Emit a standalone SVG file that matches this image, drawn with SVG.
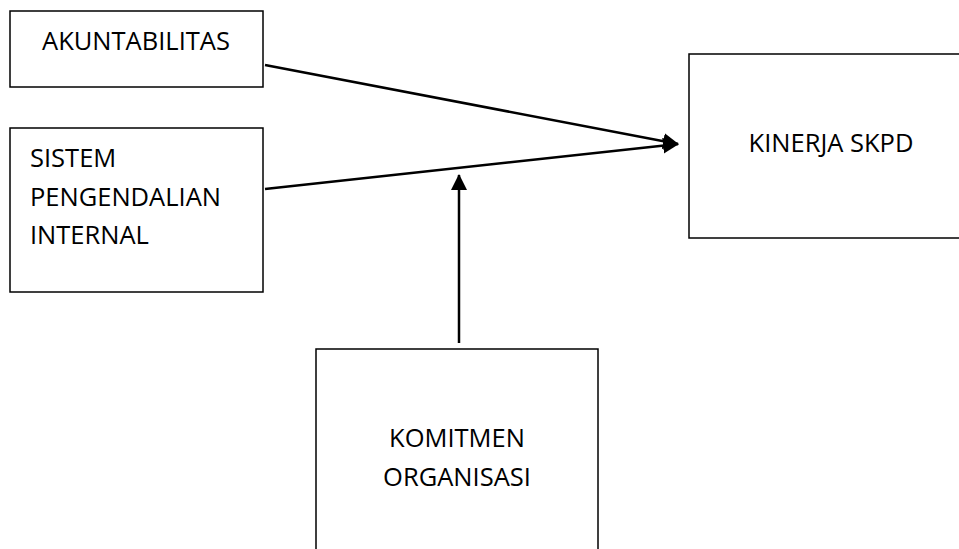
<svg xmlns="http://www.w3.org/2000/svg" width="959" height="549" viewBox="0 0 959 549">
<style>
.box{fill:#fff;stroke:#000;stroke-width:1.5}
.t{font-family:"Open Sans","Liberation Sans",sans-serif;font-size:25.5px;fill:#000}
.c{stroke:#000;stroke-width:2.5;fill:none}
</style>
<defs>
<marker id="ah" markerUnits="userSpaceOnUse" markerWidth="16" markerHeight="16" refX="15" refY="8" orient="auto" viewBox="0 0 16 16">
<path d="M0,0 L16,8 L0,16 Z" fill="#000"/>
</marker>
</defs>
<rect width="959" height="549" fill="#fff"/>
<g id="akuntabilitas">
<rect class="box" x="10" y="11" width="253" height="76"/>
<text class="t" x="136" y="50" text-anchor="middle">AKUNTABILITAS</text>
</g>
<g id="spi">
<rect class="box" x="10" y="128" width="253" height="164"/>
<text class="t" x="30" y="167">SISTEM</text>
<text class="t" x="30" y="206">PENGENDALIAN</text>
<text class="t" x="30" y="244">INTERNAL</text>
</g>
<g id="kinerja">
<rect class="box" x="689" y="54" width="280" height="184"/>
<text class="t" x="831" y="152" text-anchor="middle">KINERJA SKPD</text>
</g>
<g id="komitmen">
<rect class="box" x="316" y="349" width="282" height="210"/>
<text class="t" x="457" y="447" text-anchor="middle">KOMITMEN</text>
<text class="t" x="457" y="486" text-anchor="middle">ORGANISASI</text>
</g>
<g id="connectors">
<line class="c" x1="265" y1="65" x2="678" y2="144" marker-end="url(#ah)"/>
<line class="c" x1="265" y1="189" x2="678" y2="144" marker-end="url(#ah)"/>
<line class="c" x1="459" y1="343" x2="459" y2="175" marker-end="url(#ah)"/>
</g>
</svg>
